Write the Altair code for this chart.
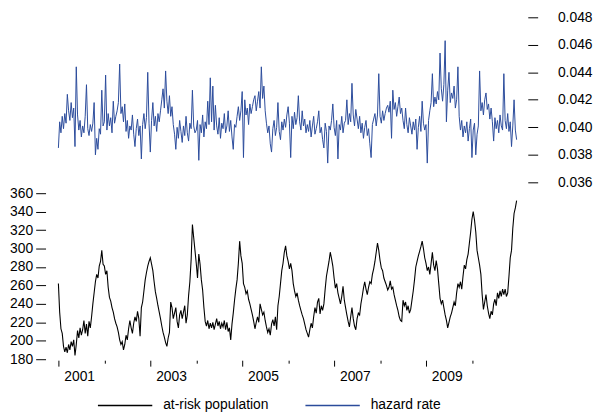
import altair as alt
import pandas as pd

FONT = "Liberation Sans"

# hazard rate, ~3 readings per month (2001 .. 2010)
haz_2001 = [0.0385, 0.0404, 0.0396, 0.0408, 0.0399, 0.0410, 0.0403, 0.0424, 0.0412, 0.0405, 0.0418, 0.0407,
            0.0414, 0.0386, 0.0444, 0.0409, 0.0398, 0.0405, 0.0393, 0.0401, 0.0396, 0.0408, 0.0431, 0.0399,
            0.0394, 0.0402, 0.0397, 0.0403, 0.0418, 0.0380, 0.0392, 0.0384, 0.0399, 0.0395, 0.0427, 0.0401]
haz_2002 = [0.0404, 0.0438, 0.0398, 0.0410, 0.0401, 0.0407, 0.0396, 0.0419, 0.0403, 0.0408, 0.0412, 0.0418,
            0.0446, 0.0410, 0.0415, 0.0404, 0.0417, 0.0397, 0.0405, 0.0392, 0.0401, 0.0398, 0.0409, 0.0395,
            0.0386, 0.0399, 0.0406, 0.0394, 0.0401, 0.0377, 0.0402, 0.0410, 0.0399, 0.0407, 0.0440, 0.0403]
haz_2003 = [0.0382, 0.0405, 0.0418, 0.0401, 0.0408, 0.0397, 0.0410, 0.0404, 0.0412, 0.0420, 0.0428, 0.0414,
            0.0441, 0.0419, 0.0410, 0.0423, 0.0408, 0.0415, 0.0402, 0.0395, 0.0384, 0.0400, 0.0392, 0.0405,
            0.0397, 0.0389, 0.0401, 0.0394, 0.0408, 0.0396, 0.0390, 0.0403, 0.0399, 0.0427, 0.0401, 0.0396]
haz_2004 = [0.0398, 0.0405, 0.0376, 0.0402, 0.0396, 0.0409, 0.0393, 0.0404, 0.0399, 0.0419, 0.0402, 0.0436,
            0.0404, 0.0430, 0.0398, 0.0416, 0.0401, 0.0395, 0.0407, 0.0392, 0.0403, 0.0399, 0.0410, 0.0396,
            0.0401, 0.0412, 0.0397, 0.0405, 0.0393, 0.0384, 0.0402, 0.0400, 0.0408, 0.0415, 0.0405, 0.0412]
haz_2005 = [0.0426, 0.0378, 0.0420, 0.0409, 0.0414, 0.0402, 0.0417, 0.0410, 0.0415, 0.0420, 0.0423, 0.0412,
            0.0419, 0.0426, 0.0414, 0.0444, 0.0421, 0.0430, 0.0412, 0.0403, 0.0396, 0.0401, 0.0388, 0.0382,
            0.0399, 0.0405, 0.0394, 0.0400, 0.0418, 0.0397, 0.0391, 0.0404, 0.0398, 0.0406, 0.0400, 0.0409]
haz_2006 = [0.0415, 0.0403, 0.0378, 0.0408, 0.0399, 0.0411, 0.0402, 0.0407, 0.0423, 0.0404, 0.0398, 0.0412,
            0.0401, 0.0406, 0.0396, 0.0402, 0.0397, 0.0405, 0.0393, 0.0401, 0.0408, 0.0395, 0.0399, 0.0404,
            0.0412, 0.0396, 0.0400, 0.0391, 0.0385, 0.0403, 0.0397, 0.0374, 0.0401, 0.0398, 0.0405, 0.0417]
haz_2007 = [0.0400, 0.0394, 0.0405, 0.0377, 0.0402, 0.0398, 0.0408, 0.0396, 0.0403, 0.0405, 0.0420, 0.0402,
            0.0410, 0.0404, 0.0432, 0.0409, 0.0401, 0.0413, 0.0406, 0.0399, 0.0408, 0.0396, 0.0403, 0.0392,
            0.0400, 0.0405, 0.0394, 0.0399, 0.0388, 0.0378, 0.0402, 0.0406, 0.0410, 0.0401, 0.0409, 0.0439]
haz_2008 = [0.0408, 0.0403, 0.0412, 0.0405, 0.0410, 0.0414, 0.0416, 0.0411, 0.0419, 0.0392, 0.0427, 0.0413,
            0.0418, 0.0408, 0.0415, 0.0422, 0.0410, 0.0414, 0.0405, 0.0399, 0.0414, 0.0402, 0.0396, 0.0407,
            0.0401, 0.0395, 0.0404, 0.0398, 0.0406, 0.0384, 0.0400, 0.0408, 0.0397, 0.0419, 0.0403, 0.0398]
haz_2009 = [0.0402, 0.0374, 0.0405, 0.0412, 0.0418, 0.0439, 0.0415, 0.0422, 0.0417, 0.0426, 0.0420, 0.0454,
            0.0428, 0.0419, 0.0431, 0.0463, 0.0404, 0.0427, 0.0440, 0.0418, 0.0425, 0.0421, 0.0430, 0.0414,
            0.0420, 0.0444, 0.0408, 0.0398, 0.0405, 0.0393, 0.0401, 0.0396, 0.0404, 0.0390, 0.0399, 0.0406]
haz_2010 = [0.0378, 0.0398, 0.0403, 0.0380, 0.0395, 0.0401, 0.0441, 0.0412, 0.0418, 0.0409, 0.0420, 0.0425,
            0.0413, 0.0417, 0.0406, 0.0414, 0.0404, 0.0390, 0.0407, 0.0399, 0.0405, 0.0396, 0.0409, 0.0401,
            0.0398, 0.0439, 0.0405, 0.0399, 0.0410, 0.0397, 0.0404, 0.0386, 0.0401, 0.0420, 0.0398, 0.0391]

# at-risk population, same readings
pop_2001 = [262, 231, 213, 208, 194, 188, 193, 187, 196, 190, 199, 194, 201, 184, 196, 211, 203, 214,
            206, 212, 222, 208, 218, 205, 221, 214, 226, 240, 252, 264, 272, 268, 281, 286, 298, 283]
pop_2002 = [281, 272, 276, 258, 247, 243, 236, 231, 224, 219, 215, 209, 201, 196, 199, 190, 196, 206,
            201, 213, 222, 214, 208, 219, 226, 221, 232, 224, 205, 236, 242, 254, 266, 274, 281, 286]
pop_2003 = [290, 283, 276, 264, 253, 246, 238, 231, 224, 216, 209, 204, 198, 194, 203, 209, 242, 236,
            224, 230, 236, 221, 214, 228, 233, 224, 231, 238, 219, 228, 249, 264, 288, 326, 312, 298]
pop_2004 = [284, 268, 294, 283, 266, 255, 236, 221, 216, 222, 213, 219, 214, 220, 212, 218, 224, 216,
            221, 213, 219, 215, 222, 212, 220, 210, 214, 201, 218, 230, 244, 256, 266, 284, 308, 292]
pop_2005 = [284, 262, 258, 251, 254, 245, 240, 234, 228, 221, 213, 220, 226, 220, 240, 234, 228, 231,
            222, 215, 209, 213, 206, 218, 223, 216, 226, 212, 238, 248, 262, 276, 284, 296, 303, 292]
pop_2006 = [286, 278, 284, 276, 262, 254, 248, 252, 244, 238, 233, 228, 224, 218, 212, 208, 204, 212,
            219, 214, 226, 236, 230, 242, 246, 229, 238, 233, 240, 256, 270, 278, 286, 296, 289, 281]
pop_2007 = [268, 257, 262, 252, 246, 240, 248, 259, 244, 236, 228, 221, 215, 226, 236, 224, 216, 212,
            224, 230, 228, 240, 248, 257, 264, 256, 250, 258, 264, 262, 272, 278, 286, 296, 306, 298]
pop_2008 = [287, 279, 276, 268, 264, 260, 255, 258, 265, 256, 258, 250, 244, 238, 233, 226, 222, 221,
            244, 238, 242, 233, 238, 230, 234, 244, 254, 266, 280, 286, 292, 297, 302, 308, 300, 290]
pop_2009 = [284, 276, 280, 272, 284, 296, 282, 276, 287, 278, 262, 246, 240, 244, 236, 228, 222, 214,
            220, 226, 230, 236, 242, 238, 252, 262, 258, 264, 256, 270, 282, 278, 288, 294, 306, 318]
pop_2010 = [332, 340, 331, 318, 298, 290, 282, 272, 250, 234, 242, 250, 238, 230, 224, 232, 228, 240,
            245, 238, 252, 246, 254, 248, 256, 250, 256, 248, 252, 270, 290, 298, 322, 338, 344, 352]

hazard = haz_2001 + haz_2002 + haz_2003 + haz_2004 + haz_2005 + haz_2006 + haz_2007 + haz_2008 + haz_2009 + haz_2010
population = pop_2001 + pop_2002 + pop_2003 + pop_2004 + pop_2005 + pop_2006 + pop_2007 + pop_2008 + pop_2009 + pop_2010
time = [2001 + i / 36 for i in range(len(population))]

series_names = ["at-risk population", "hazard rate"]
series_colors = ["#000000", "#2b4b9b"]
year_ticks = list(range(2001, 2011))
pop_ticks = list(range(180, 361, 20))
haz_ticks = [0.036, 0.038, 0.040, 0.042, 0.044, 0.046, 0.048]

df_pop = pd.DataFrame({"t": time, "value": population, "series": series_names[0]})
df_haz = pd.DataFrame({"t": time, "value": hazard, "series": series_names[1]})

x_enc = alt.X(
    "t:Q",
    scale=alt.Scale(domain=[2001, 2011], nice=False, zero=False),
    axis=alt.Axis(
        values=year_ticks, format="d", title=None,
        labelExpr="datum.value % 2 == 1 ? datum.label : ''",
        tickSize={"condition": {"test": "datum.value % 2 == 1", "value": 6}, "value": 3},
        labelOffset=21, labelPadding=4, labelFlush=False, labelOverlap=False,
    ),
)

color_enc = alt.Color(
    "series:N",
    scale=alt.Scale(domain=series_names, range=series_colors),
    legend=alt.Legend(
        title=None, orient="none", legendX=39, legendY=364, direction="horizontal",
        symbolType="stroke", symbolSize=3025, symbolStrokeWidth=1.5,
        labelFont=FONT, labelFontSize=14, labelColor="black",
        labelOffset=10, columnPadding=34,
    ),
)

pop = alt.Chart(df_pop).mark_line(strokeWidth=1.1).encode(
    x=x_enc,
    y=alt.Y(
        "value:Q",
        scale=alt.Scale(domain=[180, 360], range=[346, 178], zero=False, nice=False),
        axis=alt.Axis(orient="left", values=pop_ticks, title=None, offset=13,
                      tickSize=10, labelPadding=3),
    ),
    color=color_enc,
)

haz = alt.Chart(df_haz).mark_line(strokeWidth=1).encode(
    x=x_enc,
    y=alt.Y(
        "value:Q",
        scale=alt.Scale(domain=[0.036, 0.048], range=[167, 0], zero=False, nice=False),
        axis=alt.Axis(orient="right", values=haz_ticks, format=".3f", title=None, offset=10,
                      tickSize=10, labelPadding=20),
    ),
    color=color_enc,
)

chart = (
    alt.layer(pop, haz)
    .resolve_scale(y="independent")
    .properties(
        width=465, height=347,
        autosize=alt.AutoSizeParams(type="none"),
        padding={"left": 51, "top": 7, "right": 76, "bottom": 50},
    )
    .configure_view(stroke=None)
    .configure_axis(
        domain=False, grid=False, labelFont=FONT, labelFontSize=14,
        labelColor="black", tickColor="black", tickWidth=1,
    )
)

chart.save("out.html", embed_options={"renderer": "svg", "actions": False})
